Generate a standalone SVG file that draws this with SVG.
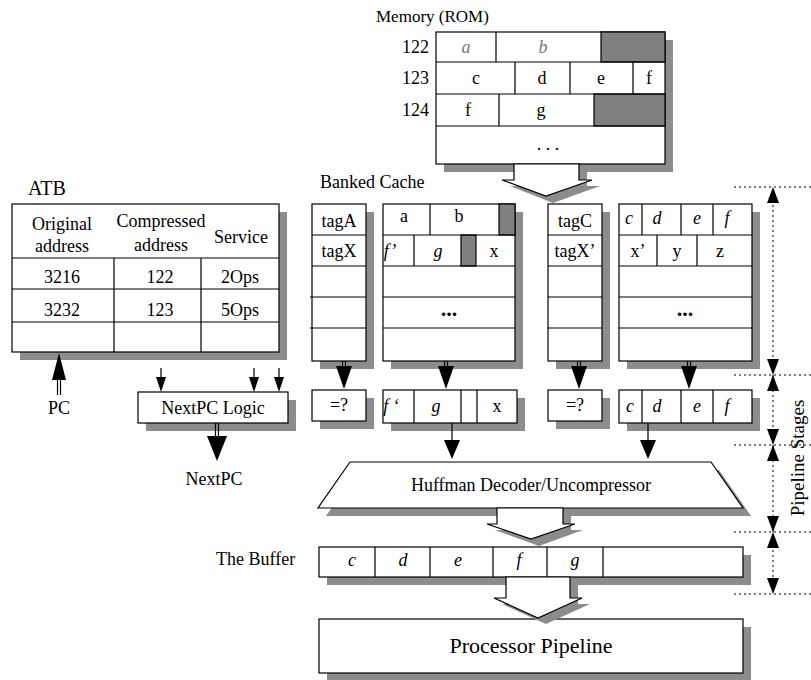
<svg xmlns="http://www.w3.org/2000/svg" width="811" height="680" viewBox="0 0 811 680">
  <style>
    .box { fill: #fff; stroke: #000; stroke-width: 1.2; }
    .fill { fill: #808080; stroke: #000; stroke-width: 1.2; }
    .sh { fill: #8c8c8c; stroke: none; }
    .ln { stroke: #000; stroke-width: 1.2; fill: none; }
    .dot { stroke: #000; stroke-width: 1; stroke-dasharray: 2 3; fill: none; }
    .head { fill: #000; stroke: none; }
    .t { font-family: "Liberation Serif", "Times New Roman", serif; font-size: 18px; fill: #000; text-anchor: middle; }
    .s { text-anchor: start; }
    .e { text-anchor: end; }
    .i { font-style: italic; }
    .g { fill: #777; }
  </style>
  <rect width="811" height="680" fill="#fff"/>

  <!-- Memory (ROM) -->
  <g id="rom">
    <text class="t s" x="376" y="22" style="font-size:17px">Memory (ROM)</text>
    <text class="t e" x="429" y="53">122</text>
    <text class="t e" x="429" y="84">123</text>
    <text class="t e" x="429" y="116">124</text>
    <rect class="sh" x="444" y="40" width="229" height="132"/>
    <rect class="box" x="436" y="32" width="229" height="132"/>
    <rect class="fill" x="601" y="32" width="64" height="30"/>
    <rect class="fill" x="594" y="94" width="71" height="32"/>
    <path class="ln" d="M436 62H665M436 94H665M436 126H665M496 32V62M515 62V94M570 62V94M633 62V94M499 94V126"/>
    <text class="t i g" x="466" y="53">a</text>
    <text class="t i g" x="543" y="53">b</text>
    <text class="t" x="476" y="84">c</text>
    <text class="t" x="542" y="84">d</text>
    <text class="t" x="601" y="84">e</text>
    <text class="t" x="649" y="84">f</text>
    <text class="t" x="468" y="116">f</text>
    <text class="t" x="541" y="116">g</text>
    <text class="t" x="548" y="150">. . .</text>
  </g>

  <!-- ATB -->
  <g id="atb">
    <text class="t s" x="28" y="195" style="font-size:20px">ATB</text>
    <rect class="sh" x="20" y="212" width="267" height="148"/>
    <rect class="box" x="12" y="204" width="267" height="148"/>
    <path class="ln" d="M12 258H279M12 289H279M12 322H279M114 258V352M201 258V352"/>
    <text class="t" x="62" y="230">Original</text>
    <text class="t" x="62" y="252">address</text>
    <text class="t" x="161" y="227">Compressed</text>
    <text class="t" x="161" y="251">address</text>
    <text class="t" x="241" y="243">Service</text>
    <text class="t" x="62" y="283">3216</text>
    <text class="t" x="160" y="283">122</text>
    <text class="t" x="240" y="283">2Ops</text>
    <text class="t" x="62" y="316">3232</text>
    <text class="t" x="160" y="316">123</text>
    <text class="t" x="240" y="316">5Ops</text>
  </g>

  <g id="pc-label"><text class="t" x="59" y="414">PC</text></g>

  <!-- NextPC Logic -->
  <g id="nextpc-logic">
    <rect class="sh" x="146" y="400" width="150" height="31"/>
    <rect class="box" x="138" y="392" width="150" height="31"/>
    <text class="t" x="213" y="414">NextPC Logic</text>
  </g>
  <g id="nextpc-label"><text class="t" x="214" y="485">NextPC</text></g>

  <text class="t s" x="320" y="188">Banked Cache</text>

  <!-- Tag bank A -->
  <g id="tag-bank-a">
    <rect class="sh" x="320" y="212" width="54" height="157"/>
    <rect class="box" x="312" y="204" width="54" height="157"/>
    <path class="ln" d="M312 235H366M312 266H366M310 297H366M310 328H366"/>
    <text class="t" x="339" y="227">tagA</text>
    <text class="t" x="339" y="257">tagX</text>
  </g>

  <!-- Data bank A -->
  <g id="data-bank-a">
    <rect class="sh" x="391" y="212" width="132" height="157"/>
    <rect class="box" x="383" y="204" width="132" height="157"/>
    <rect class="fill" x="499" y="204" width="16" height="31"/>
    <rect class="fill" x="461" y="235" width="15" height="31"/>
    <path class="ln" d="M383 235H515M383 266H515M383 297H515M383 328H515M430 204V235M414 235V266"/>
    <text class="t" x="404" y="222">a</text>
    <text class="t" x="459" y="222">b</text>
    <text class="t i" x="390" y="257">f’</text>
    <text class="t i" x="438" y="257">g</text>
    <text class="t" x="494" y="257">x</text>
    <text class="t" x="449" y="316" style="font-weight:bold;font-size:22px">...</text>
  </g>

  <!-- Tag bank C -->
  <g id="tag-bank-c">
    <rect class="sh" x="556" y="212" width="54" height="157"/>
    <rect class="box" x="548" y="204" width="54" height="157"/>
    <path class="ln" d="M548 235H602M548 266H602M548 297H602M548 328H602"/>
    <text class="t" x="575" y="227">tagC</text>
    <text class="t" x="575" y="257">tagX’</text>
  </g>

  <!-- Data bank C -->
  <g id="data-bank-c">
    <rect class="sh" x="627" y="212" width="133" height="157"/>
    <rect class="box" x="619" y="204" width="133" height="157"/>
    <path class="ln" d="M619 235H752M619 266H752M619 297H752M619 328H752M642 204V235M681 204V235M713 204V235M657 235V266M697 235V266"/>
    <text class="t i" x="629" y="224">c</text>
    <text class="t i" x="657" y="224">d</text>
    <text class="t i" x="697" y="224">e</text>
    <text class="t i" x="727" y="224">f</text>
    <text class="t" x="638" y="257">x’</text>
    <text class="t" x="677" y="257">y</text>
    <text class="t" x="720" y="257">z</text>
    <text class="t" x="685" y="316" style="font-weight:bold;font-size:22px">...</text>
  </g>

  <!-- Stage 2 registers -->
  <g id="compare-a">
    <rect class="sh" x="320" y="398" width="54" height="31"/>
    <rect class="box" x="312" y="390" width="54" height="31"/>
    <text class="t" x="339" y="411">=?</text>
  </g>
  <g id="fetch-a">
    <rect class="sh" x="391" y="398" width="134" height="33"/>
    <rect class="box" x="383" y="390" width="134" height="33"/>
    <path class="ln" d="M414 390V423M461 390V423M477 390V423"/>
    <text class="t i" x="391" y="412">f ‘</text>
    <text class="t i" x="436" y="412">g</text>
    <text class="t" x="497" y="412">x</text>
  </g>
  <g id="compare-c">
    <rect class="sh" x="556" y="398" width="54" height="31"/>
    <rect class="box" x="548" y="390" width="54" height="31"/>
    <text class="t" x="575" y="411">=?</text>
  </g>
  <g id="fetch-c">
    <rect class="sh" x="627" y="398" width="133" height="33"/>
    <rect class="box" x="619" y="390" width="133" height="33"/>
    <path class="ln" d="M642 390V423M681 390V423M713 390V423"/>
    <text class="t i" x="630" y="412">c</text>
    <text class="t i" x="657" y="412">d</text>
    <text class="t i" x="697" y="412">e</text>
    <text class="t i" x="727" y="412">f</text>
  </g>

  <!-- Huffman decoder -->
  <g id="huffman">
    <polygon class="sh" points="358,470 719,470 751,516 326,516"/>
    <polygon class="box" points="350,462 711,462 743,508 318,508"/>
    <text class="t" x="531" y="491">Huffman Decoder/Uncompressor</text>
  </g>

  <!-- Buffer -->
  <g id="buffer">
    <text class="t s" x="216" y="565">The Buffer</text>
    <rect class="sh" x="327" y="555" width="424" height="30"/>
    <rect class="box" x="319" y="547" width="424" height="30"/>
    <path class="ln" d="M375 547V577M430 547V577M493 547V577M547 547V577M603 547V577"/>
    <text class="t i" x="352" y="566">c</text>
    <text class="t i" x="403" y="566">d</text>
    <text class="t i" x="458" y="566">e</text>
    <text class="t i" x="519" y="566">f</text>
    <text class="t i" x="575" y="566">g</text>
  </g>

  <!-- Processor pipeline -->
  <g id="processor">
    <rect class="sh" x="327" y="627" width="424" height="54"/>
    <rect class="box" x="319" y="619" width="424" height="54"/>
    <text class="t" x="531" y="653" style="font-size:22px">Processor Pipeline</text>
  </g>

  <!-- Connectors -->
  <g id="connectors">
    <!-- wide transfer arrows -->
    <polygon class="sh" points="522,172 587,172 587,186 600,186 553,203 510,186 522,186"/>
    <polygon class="box" points="514,164 579,164 579,180 592,180 546,196 502,180 514,180"/>
    <polygon class="sh" points="505,516 571,516 571,530 583,530 539,546 495,530 505,530"/>
    <polygon class="box" points="497,508 563,508 563,524 575,524 531,539 487,524 497,524"/>
    <polygon class="sh" points="514,585 578,585 578,604 590,604 546,624 502,604 514,604"/>
    <polygon class="box" points="506,577 570,577 570,598 582,598 538,618 494,598 506,598"/>

    <!-- double-shaft arrows -->
    <path class="ln" d="M342.5 361V366M345.5 361V366"/>
    <polygon class="head" points="336,366 352,366 344,389"/>
    <path class="ln" d="M444.5 361V366M447.5 361V366"/>
    <polygon class="head" points="438,366 454,366 446,389"/>
    <path class="ln" d="M577.5 361V366M580.5 361V366"/>
    <polygon class="head" points="571,366 587,366 579,389"/>
    <path class="ln" d="M687.5 361V366M690.5 361V366"/>
    <polygon class="head" points="681,366 697,366 689,389"/>

    <path class="ln" d="M57.5 380V395M60.5 380V395"/>
    <polygon class="head" points="52,380 66,380 59,353"/>

    <path class="ln" d="M215.5 423V436M218.5 423V436"/>
    <polygon class="head" points="207,436 227,436 217,461"/>

    <!-- single arrows -->
    <path class="ln" d="M161 368V378M254 368V378M279 368V378"/>
    <polygon class="head" points="156,377 166,377 161,392"/>
    <polygon class="head" points="249,377 259,377 254,392"/>
    <polygon class="head" points="274,377 284,377 279,392"/>

    <path class="ln" d="M452 423V441M648 423V441"/>
    <polygon class="head" points="444,440 460,440 452,459"/>
    <polygon class="head" points="640,440 656,440 648,459"/>
  </g>

  <!-- Pipeline stage markers -->
  <g id="pipeline-stages">
    <path class="dot" d="M734 187H811M734 375H811M734 445H811M734 532H811M734 594H811"/>
    <path class="dot" d="M773 190V591"/>
    <polygon class="head" points="773,187 767,203 779,203"/>
    <polygon class="head" points="773,375 767,359 779,359"/>
    <polygon class="head" points="773,375 767,391 779,391"/>
    <polygon class="head" points="773,445 767,429 779,429"/>
    <polygon class="head" points="773,445 767,461 779,461"/>
    <polygon class="head" points="773,532 767,516 779,516"/>
    <polygon class="head" points="773,532 767,548 779,548"/>
    <polygon class="head" points="773,594 767,578 779,578"/>
    <text class="t" transform="translate(804 458) rotate(-90)" style="font-size:19px">Pipeline Stages</text>
  </g>
</svg>
